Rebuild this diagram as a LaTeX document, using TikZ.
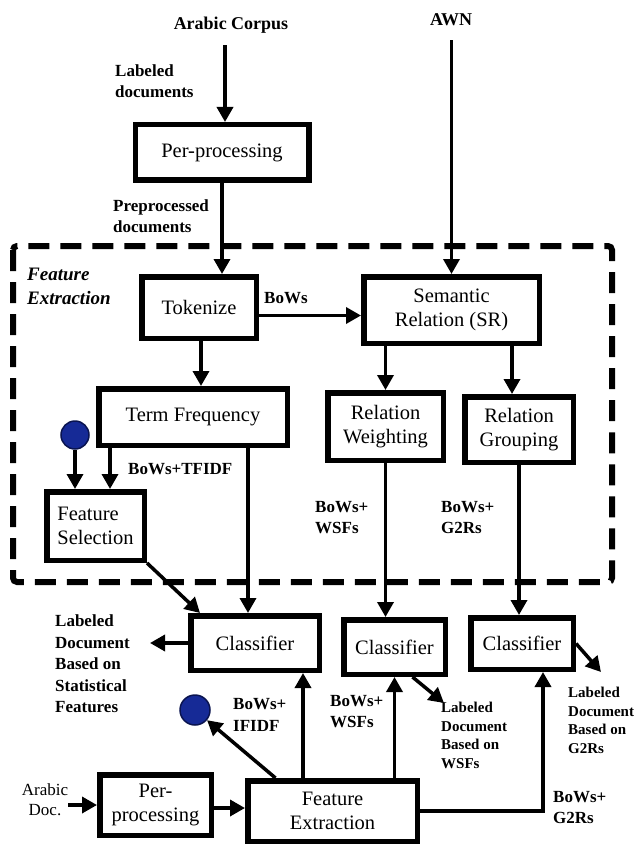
\documentclass[tikz,border=0pt]{standalone}
\usepackage{fontspec}
\setmainfont{Liberation Serif}
\usetikzlibrary{arrows.meta}
\definecolor{dotblue}{RGB}{22,42,150}
\definecolor{dotedge}{RGB}{10,20,80}

\begin{document}
\begin{tikzpicture}[x=1pt,y=-1pt,
    box/.style={draw,line width=5.5pt,align=center,inner sep=0pt,font=\fontsize{20.5}{24}\selectfont},
    lbl/.style={align=left,anchor=west,inner sep=0pt,font=\bfseries\fontsize{17}{21.5}\selectfont},
    sml/.style={align=left,anchor=west,inner sep=0pt,font=\bfseries\fontsize{15}{18.5}\selectfont},
    ttl/.style={inner sep=0pt,font=\bfseries\fontsize{18}{22}\selectfont},
    arr/.style={line width=3.5pt,-{Triangle[length=15pt,width=16pt]}},
    dot/.style={circle,draw=dotedge,fill=dotblue,line width=1.5pt,minimum size=28pt,inner sep=0pt}]

          \useasboundingbox (0,0) rectangle (633,845);
          \draw[line width=6pt,dash pattern=on 21pt off 11pt,rounded corners=4pt] (13,246) rectangle (612,582);

          \node[ttl] (corpus) at (231,25) {Arabic Corpus};
          \node[ttl] (awn) at (451,20) {AWN};
          \node[lbl] (labdocs) at (115,81) {Labeled\\documents};
          \node[box,minimum width=173.5pt,minimum height=55.5pt] (pre1) at (222,152.5) {Per-processing};
          \node[lbl] (prepdocs) at (113,216) {Preprocessed\\documents};
          \node[align=left,anchor=west,inner sep=0pt,font=\bfseries\itshape\fontsize{19}{24}\selectfont] (fetitle) at (27,286) {Feature\\Extraction};

          \node[box,minimum width=114.5pt,minimum height=61.5pt] (tok) at (199,307.5) {Tokenize};
          \node[box,minimum width=175.5pt,minimum height=66.5pt] (sr) at (451.5,310) {Semantic\\Relation (SR)};
          \node[lbl] (bows) at (264,298) {BoWs};
          \node[box,minimum width=188.5pt,minimum height=56.5pt] (tf) at (193,417) {Term Frequency};
          \node[box,minimum width=115.5pt,minimum height=67.5pt] (rw) at (385.5,426.5) {Relation\\Weighting};
          \node[box,minimum width=108.5pt,minimum height=65.5pt] (rg) at (519,429.5) {Relation\\Grouping};
          \node[dot] (dot1) at (75,435) {};
          \node[lbl] (tfidf) at (128,469) {BoWs+TFIDF};
          \node[box,align=left,minimum width=97.5pt,minimum height=68.5pt] (fs) at (95.5,526) {Feature\\Selection};
          \node[lbl] (wsf1) at (315,517.5) {BoWs+\\WSFs};
          \node[lbl] (g2r1) at (441,517.5) {BoWs+\\G2Rs};

          \node[box,minimum width=128.5pt,minimum height=54.5pt] (cl1) at (255,643) {Classifier};
          \node[box,minimum width=101.5pt,minimum height=54.5pt] (cl2) at (394.5,647) {Classifier};
          \node[box,minimum width=102.5pt,minimum height=51.5pt] (cl3) at (522,643.5) {Classifier};
          \node[lbl] (lab1) at (55,664) {Labeled\\Document\\Based on\\Statistical\\Features};
          \node[sml] (lab2) at (441,735.5) {Labeled\\Document\\Based on\\WSFs};
          \node[sml] (lab3) at (568,720.5) {Labeled\\Document\\Based on\\G2Rs};
          \node[dot,minimum size=30pt] (dot2) at (195,710) {};
          \node[lbl] (ifidf) at (233,715) {BoWs+\\IFIDF};
          \node[lbl] (wsf2) at (330,711.5) {BoWs+\\WSFs};
          \node[lbl] (g2r2) at (553,807.5) {BoWs+\\G2Rs};
          \node[align=center,inner sep=0pt,font=\fontsize{17}{20}\selectfont] (doc) at (45,800) {Arabic\\Doc.};
          \node[box,minimum width=111.5pt,minimum height=60.5pt] (pre2) at (155.5,805) {Per-\\processing};
          \node[box,minimum width=169.5pt,minimum height=60.5pt] (fe) at (332.5,811) {Feature\\Extraction};

          \coordinate (out1) at (150,643);
          \coordinate (out2) at (444,703);
          \coordinate (out3) at (601,672);

          \draw[arr,shorten <=12pt] ([xshift=3pt]pre1.north |- corpus.south) -- ([xshift=3pt]pre1.north);
          \draw[arr] (pre1.south) -- (pre1.south |- tok.north);
          \draw[arr,shorten <=14pt] (sr.north |- awn.south) -- (sr.north);
          \draw[arr] ([yshift=-8pt]tok.east) -- ([yshift=-8pt]tok.east -| sr.west);
          \draw[arr] ([xshift=2pt]tok.south) -- ([xshift=2pt]tok.south |- tf.north);
          \draw[arr] (rw.north |- sr.south) -- (rw.north);
          \draw[arr] ([xshift=-7pt]rg.north |- sr.south) -- ([xshift=-7pt]rg.north);
          \draw[arr] (dot1.south) -- (dot1.south |- fs.north);
          \draw[arr] ([xshift=14.5pt]fs.north |- tf.south) -- ([xshift=14.5pt]fs.north);
          \draw[arr] ([xshift=-7pt]cl1.north |- tf.south) -- ([xshift=-7pt]cl1.north);
          \draw[arr] (fs.south east) -- ([xshift=-55pt]cl1.north);
          \draw[arr] (rw.south) -- (rw.south |- cl2.north);
          \draw[arr] (rg.south) -- (rg.south |- cl3.north);
          \draw[arr] (cl1.west) -- (out1);
          \draw[arr] ([xshift=18pt]cl2.south) -- (out2);
          \draw[arr] (cl3.east) -- (out3);
          \draw[arr] ([xshift=-57pt]fe.north) -- (dot2);
          \draw[arr] ([xshift=48pt]cl1.south |- fe.north) -- ([xshift=48pt]cl1.south);
          \draw[arr] (cl2.south |- fe.north) -- (cl2.south);
          \draw[arr] (fe.east) -| ([xshift=21pt]cl3.south);
          \draw[arr] (doc.east |- pre2.west) -- (pre2.west);
          \draw[arr] ([yshift=-3pt]pre2.east) -- ([yshift=-3pt]pre2.east -| fe.west);
        \end{tikzpicture}
\end{document}
